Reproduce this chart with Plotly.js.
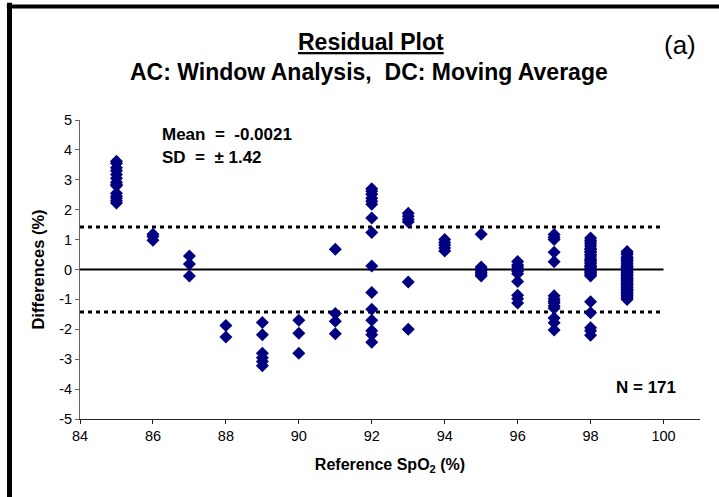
<!DOCTYPE html>
<html>
<head>
<meta charset="utf-8">
<script src="https://cdn.plot.ly/plotly-3.0.1.min.js"></script>
<style>html,body{margin:0;padding:0;background:#fff;}</style>
</head>
<body>
<div id="chart" style="width:719px;height:497px;"></div>
<script>
// Reference SpO2 columns and residuals
const refSpO2 = [85, 86, 87, 88, 89, 90, 91, 92, 93, 94, 95, 96, 97, 98, 99];
const diff85 = [3.62, 3.55, 3.4, 3.3, 3.18, 3.05, 2.92, 2.85, 2.8, 2.55, 2.45, 2.38, 2.3, 2.22];
const diff86 = [1.18, 1.1, 0.98];
const diff87 = [0.45, 0.18, -0.22];
const diff88 = [-1.87, -2.26];
const diff89 = [-1.77, -2.18, -2.8, -2.95, -3.08, -3.22];
const diff90 = [-1.7, -2.13, -2.8];
const diff91 = [0.68, -1.47, -1.73, -2.15];
const diff92 = [2.7, 2.62, 2.52, 2.38, 2.28, 2.18, 1.72, 1.24, 0.12, -0.77, -1.33, -1.7, -2.05, -2.18, -2.43];
const diff93 = [1.88, 1.78, 1.68, 1.6, -0.42, -2.0];
const diff94 = [1.0, 0.9, 0.82, 0.72, 0.62];
const diff95 = [1.18, 0.08, 0.02, -0.04, -0.1, -0.16, -0.22];
const diff96 = [0.27, 0.15, 0.08, 0.0, -0.06, -0.14, -0.4, -0.86, -0.98, -1.12];
const diff97 = [1.17, 1.08, 1.0, 0.58, 0.26, -0.88, -0.98, -1.05, -1.12, -1.22, -1.3, -1.62, -1.78, -2.02];
const diff98 = [1.05, 0.98, 0.92, 0.85, 0.78, 0.7, 0.66, 0.58, 0.5, 0.45, 0.38, 0.32, 0.25, 0.2, 0.14, 0.08, 0.03, -0.02, -0.06, -0.1, -0.14, -0.18, -0.22, 0.0, 0.1, 0.3, 0.6, -1.08, -1.45, -1.95, -2.05, -2.2];
const diff99 = [0.6, 0.55, 0.5, 0.42, 0.38, 0.3, 0.27, 0.2, 0.18, 0.12, 0.08, 0.05, 0.02, 0, -0.03, -0.06, -0.1, -0.12, -0.15, -0.2, -0.22, -0.25, -0.3, -0.33, -0.38, -0.4, -0.45, -0.48, -0.52, -0.55, -0.6, -0.62, -0.66, -0.7, -0.72, -0.78, -0.8, -0.85, -0.88, -0.92, -0.95, -1.0, -0.5, -0.3, 0.1, 0.35, -0.68];
const diffColumns = [diff85, diff86, diff87, diff88, diff89, diff90, diff91, diff92, diff93, diff94, diff95, diff96, diff97, diff98, diff99];

const meanDiff = -0.0021;
const sdDiff = 1.42;
const nPoints = 171;
const xTicks = [84, 86, 88, 90, 92, 94, 96, 98, 100];
const yTicks = [-5, -4, -3, -2, -1, 0, 1, 2, 3, 4, 5];
const lineSpan = [84, 100];

const xs = [], ys = [];
refSpO2.forEach((x, i) => diffColumns[i].forEach(d => { xs.push(x); ys.push(d); }));

const FONT = 'Liberation Sans, Arial, sans-serif';

const traces = [
  { x: lineSpan, y: [0, 0], mode: 'lines', line: {color: '#000', width: 2}, hoverinfo: 'skip' },
  { x: lineSpan, y: [sdDiff, sdDiff], mode: 'lines', line: {color: '#000', width: 3, dash: '4px,4px'}, hoverinfo: 'skip' },
  { x: lineSpan, y: [-sdDiff, -sdDiff], mode: 'lines', line: {color: '#000', width: 3, dash: '4px,4px'}, hoverinfo: 'skip' },
  { x: xs, y: ys, mode: 'markers', type: 'scatter',
    marker: {symbol: 'diamond', size: 10, color: '#000080', line: {width: 0}} }
];

const layout = {
  width: 719, height: 497,
  margin: {l: 80, r: 19, t: 120, b: 78},
  paper_bgcolor: '#fff', plot_bgcolor: '#fff',
  showlegend: false,
  font: {family: FONT, color: '#000', size: 14},
  xaxis: {
    range: [84, 101], tickvals: xTicks, ticktext: xTicks.map(String),
    showgrid: false, zeroline: false, showline: true, linecolor: '#222', linewidth: 1,
    ticks: 'outside', ticklen: 4, tickcolor: '#222',
    tickfont: {family: FONT, size: 14.5, color: '#000'},
    title: {text: '<b>Reference SpO<sub>2</sub> (%)</b>', font: {family: FONT, size: 16, color: '#000'}, standoff: 15}
  },
  yaxis: {
    range: [-5, 5], tickvals: yTicks, ticktext: yTicks.map(String),
    showgrid: false, zeroline: false, showline: true, linecolor: '#666', linewidth: 1,
    ticks: 'outside', ticklen: 4, tickcolor: '#666',
    tickfont: {family: FONT, size: 14.5, color: '#000'},
    title: {text: '<b>Differences (%)</b>', font: {family: FONT, size: 16.5, color: '#000'}, standoff: 10}
  },
  annotations: [
    {xref: 'paper', yref: 'paper', x: 0.469, y: 1.261, xanchor: 'center', yanchor: 'middle', showarrow: false,
     text: '<b><u>Residual Plot</u></b>', font: {family: FONT, size: 23, color: '#000'}},
    {xref: 'paper', yref: 'paper', x: 0.466, y: 1.161, xanchor: 'center', yanchor: 'middle', showarrow: false,
     text: '<b>AC: Window Analysis,\u00a0 DC: Moving Average</b>', font: {family: FONT, size: 23, color: '#000'}},
    {xref: 'paper', yref: 'paper', x: 0.968, y: 1.251, xanchor: 'center', yanchor: 'middle', showarrow: false,
     text: '(a)', font: {family: FONT, size: 26, color: '#000'}},
    {xref: 'x', yref: 'y', x: 86.2, y: 4.5, xanchor: 'left', yanchor: 'middle', showarrow: false,
     text: '<b>Mean\u00a0 =\u00a0 ' + meanDiff.toFixed(4) + '</b>', font: {family: FONT, size: 17, color: '#000'}},
    {xref: 'x', yref: 'y', x: 86.2, y: 3.73, xanchor: 'left', yanchor: 'middle', showarrow: false,
     text: '<b>SD\u00a0 =\u00a0 \u00b1 ' + sdDiff.toFixed(2) + '</b>', font: {family: FONT, size: 17, color: '#000'}},
    {xref: 'x', yref: 'y', x: 100.4, y: -3.93, xanchor: 'right', yanchor: 'middle', showarrow: false,
     text: '<b>N = ' + nPoints + '</b>', font: {family: FONT, size: 17, color: '#000'}}
  ],
  shapes: [
    {type: 'line', xref: 'paper', yref: 'paper', x0: -0.1137, x1: -0.1137, y0: 1.392, y1: -0.35, line: {color: '#000', width: 5}},
    {type: 'line', xref: 'paper', yref: 'paper', x0: -0.118, x1: 1.06, y0: 1.3796, y1: 1.3796, line: {color: '#000', width: 4}}
  ]
};

Plotly.newPlot('chart', traces, layout, {displayModeBar: false, staticPlot: true});
</script>
</body>
</html>
